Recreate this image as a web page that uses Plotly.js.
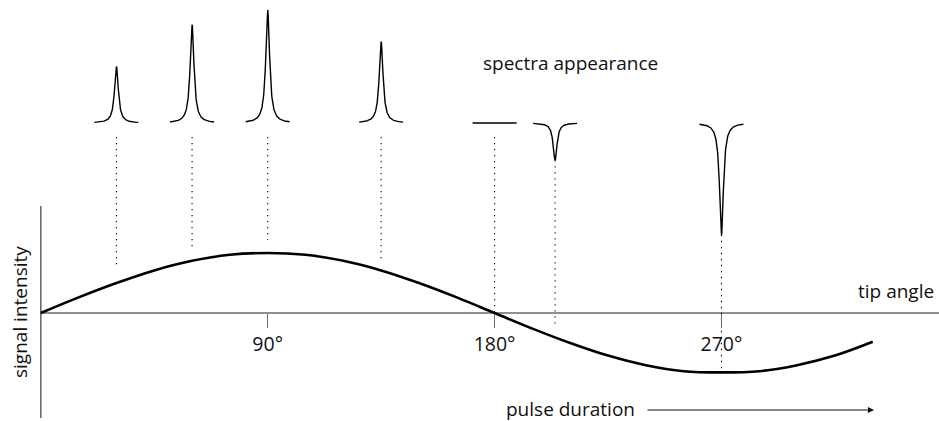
<!DOCTYPE html>
<html>
<head>
<meta charset="utf-8">
<script src="https://cdn.plot.ly/plotly-3.0.1.min.js"></script>
<style>html,body{margin:0;padding:0;background:#fff;}#chart{width:939px;height:421px;}</style>
</head>
<body>
<div id="chart"></div>
<script>
// Signal intensity curve, tip angle in degrees
const tipAngles = [0,15,30,45,60,75,90,105,120,135,150,165,180,195,210,225,240,255,270,285,300,315,330];
const intensity = [0,0.26,0.5,0.71,0.87,0.97,1,0.97,0.87,0.71,0.5,0.26,0,-0.26,-0.5,-0.71,-0.87,-0.97,-0.99,-0.97,-0.87,-0.71,-0.48];

// Spectra drawn above the curve
const spectraAngles = [30,60,90,135,180,204,270];
const spectraAmplitude = [0.5,0.87,1.0,0.72,0,-0.33,-0.99];
// where each dotted guide line stops (in signal-intensity units)
const guideEnd = [0.77,1.08,1.22,0.85,0,-0.25,-0.98];

const tickAngles = [90,180,270];
const tickLabels = ['90°','180°','270°'];

// ---- layout geometry (pixel scale helpers) ----
const W = 939, H = 421;
const x0px = 40.8, degPx = 2.521;      // px of 0°, px per degree
const y0px = 313, unitPx = 60;         // px of zero intensity, px per unit
const X = px => (px - x0px) / degPx;
const Y = py => (y0px - py) / unitPx;

const specBase = Y(123);               // spectrum baseline
const specScale = 113 / unitPx;        // spectrum amplitude scale
const specHalfWidth = 22 / degPx;      // half width of each spectrum trace
const gamma = 2.3 / degPx;             // Lorentzian half width
const guideTop = Y(137);

const FONT = '"Open Sans", "Noto Sans", sans-serif';
const TXT = '#111';
const traces = [];

// main curve
traces.push({
  x: tipAngles, y: intensity, type: 'scatter', mode: 'lines',
  line: {color: '#000', width: 2.6, shape: 'spline', smoothing: 1},
  hoverinfo: 'skip', showlegend: false
});

// spectra + guide lines
spectraAngles.forEach((a, i) => {
  const amp = spectraAmplitude[i];
  const xs = [], ys = [];
  const n = 240;
  for (let k = 0; k <= n; k++) {
    const u = -specHalfWidth + 2 * specHalfWidth * k / n;
    xs.push(a + u);
    ys.push(specBase + amp * specScale / (1 + (u / gamma) * (u / gamma)));
  }
  traces.push({
    x: xs, y: ys, type: 'scatter', mode: 'lines',
    line: {color: '#000', width: 1.4},
    hoverinfo: 'skip', showlegend: false
  });
  const top = amp < 0 ? specBase + amp * specScale : guideTop;
  traces.push({
    x: [a, a], y: [top, guideEnd[i]], type: 'scatter', mode: 'lines',
    line: {color: '#000', width: 1.1, dash: '1.3px,4.7px'},
    hoverinfo: 'skip', showlegend: false
  });
});

const axisColor = '#6b6b6b';
const layout = {
  width: W, height: H,
  margin: {l: 0, r: 0, t: 0, b: 0},
  paper_bgcolor: '#fff', plot_bgcolor: '#fff',
  showlegend: false,
  font: {family: FONT, color: TXT, size: 19},
  xaxis: {
    range: [X(0), X(W)], showgrid: false, zeroline: false, showline: false,
    anchor: 'free', position: (H - y0px) / H,
    tickmode: 'array', tickvals: tickAngles, ticktext: tickLabels,
    ticks: 'outside', ticklen: 14, tickwidth: 1.5, tickcolor: axisColor,
    tickfont: {family: FONT, size: 19.5, color: TXT}
  },
  yaxis: {range: [Y(H), Y(0)], visible: false, showgrid: false, zeroline: false},
  shapes: [
    {type: 'line', xref: 'x', yref: 'y', x0: 0, x1: X(W), y0: 0, y1: 0,
     line: {color: axisColor, width: 1.5}, layer: 'below'},
    {type: 'line', xref: 'x', yref: 'y', x0: 0, x1: 0, y0: Y(206), y1: Y(418),
     line: {color: axisColor, width: 1.6}, layer: 'below'}
  ],
  annotations: [
    {x: X(570), y: Y(63), xref: 'x', yref: 'y', text: 'spectra appearance', showarrow: false,
     font: {family: FONT, size: 19, color: TXT}},
    {x: X(936), y: Y(291), xref: 'x', yref: 'y', text: 'tip angle', showarrow: false, xanchor: 'right',
     font: {family: FONT, size: 19, color: TXT}},
    {x: X(570), y: Y(409), xref: 'x', yref: 'y', text: 'pulse duration', showarrow: false,
     font: {family: FONT, size: 19, color: TXT}},
    {x: X(20), y: Y(312), xref: 'x', yref: 'y', text: 'signal intensity', showarrow: false, textangle: -90,
     font: {family: FONT, size: 19, color: TXT}},
    {x: X(874), y: Y(410), ax: X(646), ay: Y(410), xref: 'x', yref: 'y', axref: 'x', ayref: 'y',
     text: '', showarrow: true, arrowhead: 2, arrowsize: 1.1, arrowwidth: 1.1, arrowcolor: '#111'}
  ]
};

Plotly.newPlot('chart', traces, layout, {staticPlot: true, displayModeBar: false});
</script>
</body>
</html>
